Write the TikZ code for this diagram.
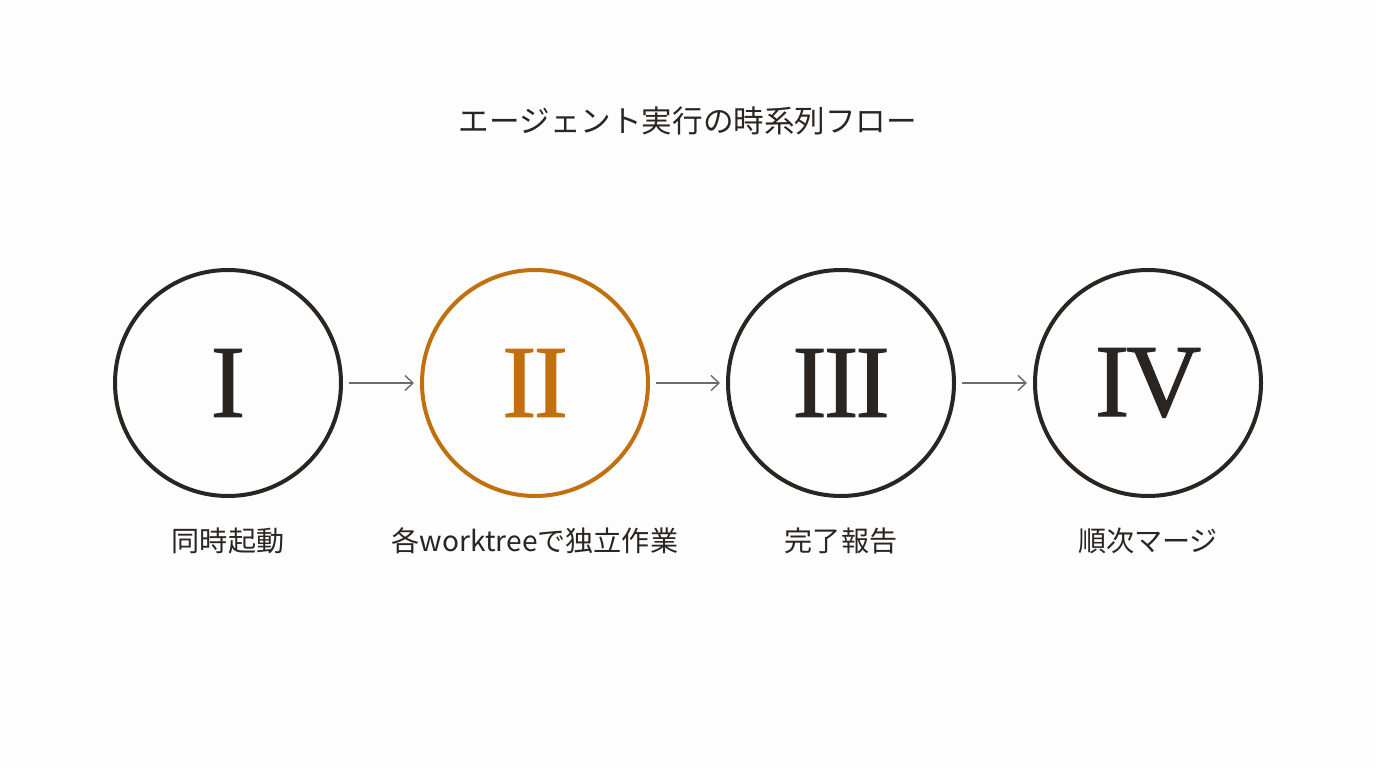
\documentclass[tikz,border=0pt]{standalone}
\usepackage{fontspec}
\setmainfont{Noto Sans CJK JP}
\newfontfamily\numfont[FakeBold=1,LetterSpace=-3]{Liberation Serif}
\usetikzlibrary{arrows.meta}
\definecolor{ink}{HTML}{2A2520}
\definecolor{amber}{HTML}{C0700F}
\definecolor{wire}{HTML}{6B6B6B}
\definecolor{paper}{HTML}{FDFDFD}
\tikzset{
	stage/.style={circle,line width=0.08cm,minimum size=4.52cm,inner sep=0,outer sep=0,font=\numfont\fontsize{59}{59}\selectfont},
	caption/.style={text=ink,font=\fontsize{16}{16}\selectfont},
	flow/.style={wire,line width=0.8pt,-{Straight Barb[length=1.6mm,width=3mm]},shorten <=0.16cm,shorten >=0.16cm}
}
\begin{document}
\begin{tikzpicture}
\fill[paper] (0,0) rectangle (27.52cm,15.36cm);
\node[text=ink,font=\fontsize{17.4}{17.4}\selectfont] (title) at (13.76cm,12.94cm) {エージェント実行の時系列フロー};
\foreach \n/\x/\r/\c/\t in {1/4.56/I/ink/同時起動,2/10.70/II/amber/各worktreeで独立作業,3/16.82/III/ink/完了報告,4/22.96/IV/ink/順次マージ}
{
	\node[stage,draw=\c,text=\c] (s\n) at (\x cm,7.7cm) {\r};
	\node[caption] (l\n) at (\x cm,4.54cm) {\t};
}
\foreach \a/\b in {1/2,2/3,3/4}
	\draw[flow] (s\a) -- (s\b);
\end{tikzpicture}
\end{document}
